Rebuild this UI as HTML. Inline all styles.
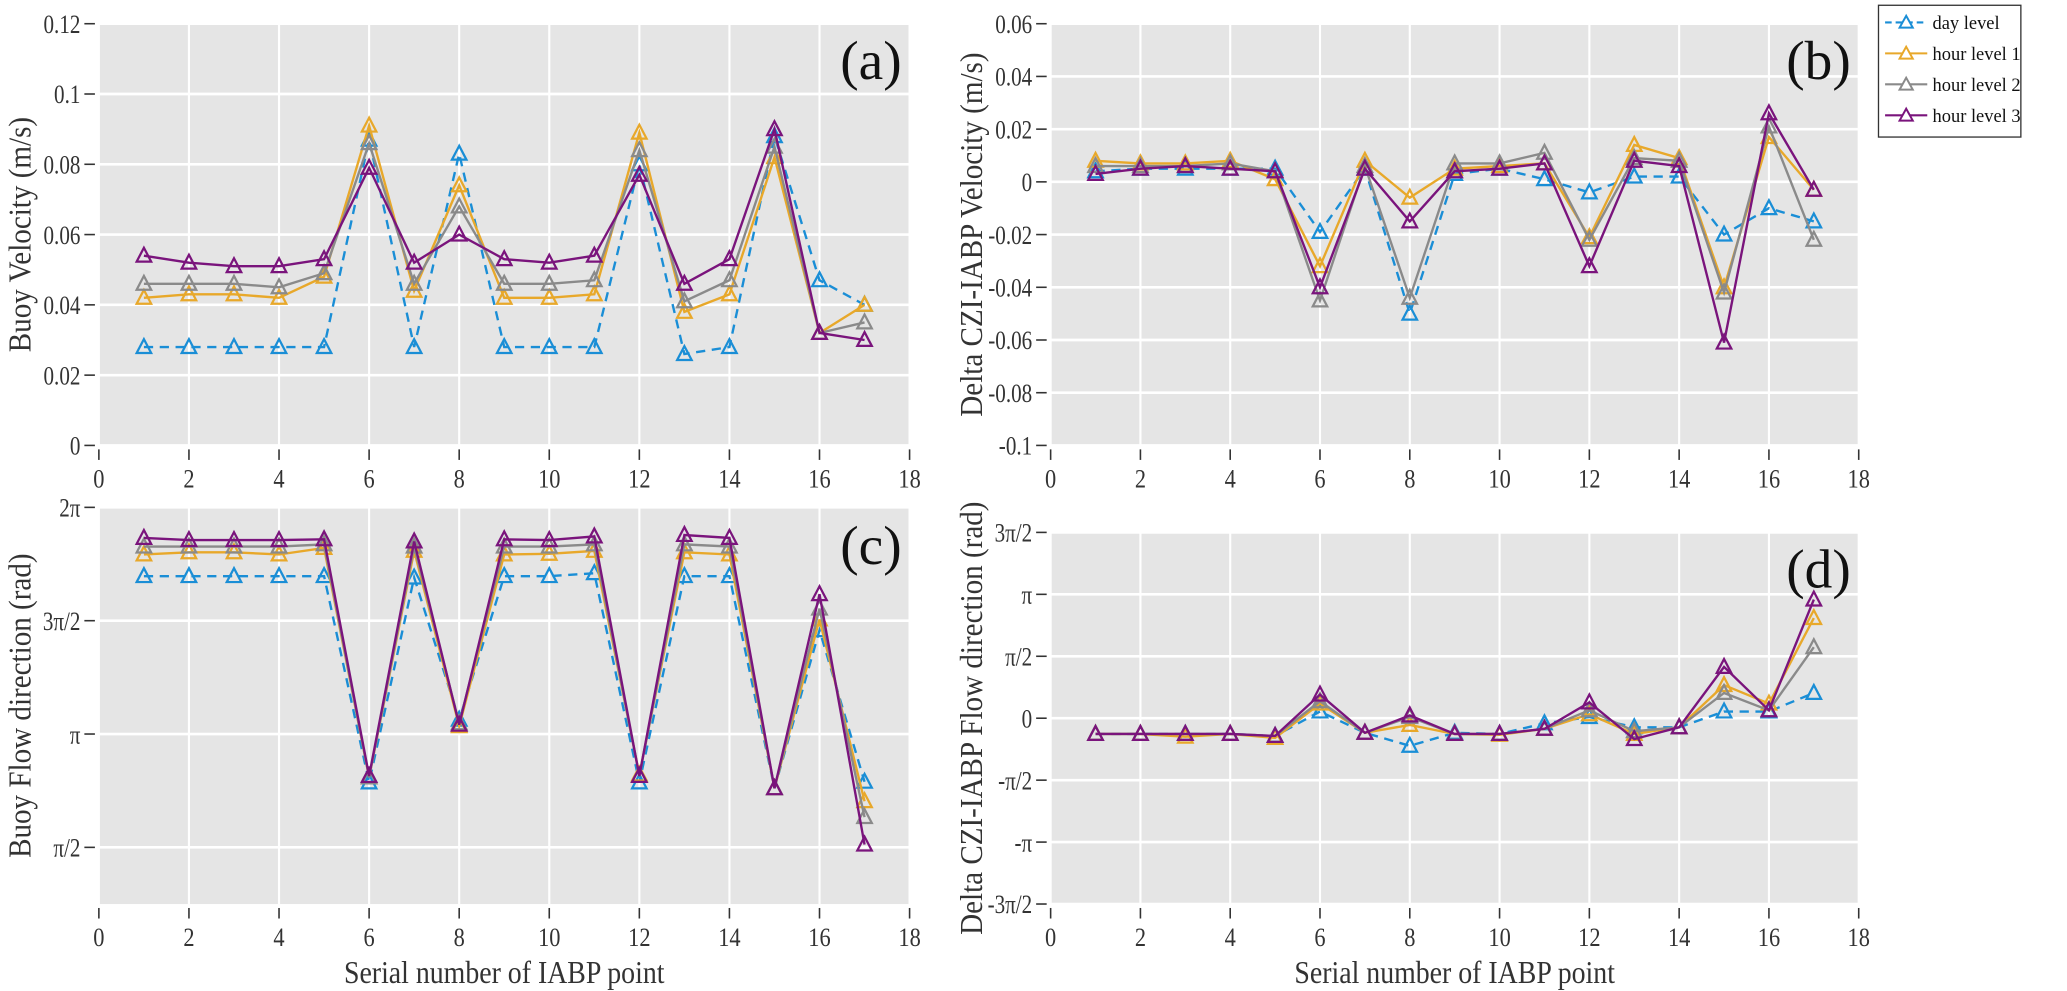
<!DOCTYPE html>
<html><head><meta charset="utf-8"><style>
body{margin:0;background:#fff}
svg{display:block;font-family:"Liberation Serif",serif}
</style></head><body>
<svg id="fig" width="2067" height="991" viewBox="0 0 1568 752" preserveAspectRatio="none" xmlns="http://www.w3.org/2000/svg"></svg>
<script>
const categories=[1,2,3,4,5,6,7,8,9,10,11,12,13,14,15,16,17];
const seriesNames=["day level","hour level 1","hour level 2","hour level 3"];
const aDay=[.028,.028,.028,.028,.028,.087,.028,.083,.028,.028,.028,.080,.026,.028,.088,.047,.040];
const aH1=[.042,.043,.043,.042,.048,.091,.044,.074,.042,.042,.043,.089,.038,.043,.082,.032,.040];
const aH2=[.046,.046,.046,.045,.049,.086,.046,.068,.046,.046,.047,.084,.041,.047,.085,.032,.035];
const aH3=[.054,.052,.051,.051,.053,.079,.052,.060,.053,.052,.054,.077,.046,.053,.090,.032,.030];
const bDay=[.004,.005,.005,.005,.005,-.019,.005,-.050,.003,.005,.001,-.004,.002,.002,-.020,-.010,-.015];
const bH1=[.008,.007,.007,.008,.001,-.032,.008,-.006,.005,.006,.007,-.021,.014,.009,-.040,.017,-.003];
const bH2=[.006,.006,.006,.007,.004,-.045,.006,-.044,.007,.007,.011,-.022,.009,.008,-.042,.021,-.022];
const bH3=[.003,.005,.006,.005,.004,-.040,.005,-.015,.004,.005,.007,-.032,.008,.006,-.061,.026,-.003];
const cDay=[5.33,5.33,5.33,5.33,5.33,2.47,5.31,3.34,5.33,5.33,5.37,2.47,5.33,5.33,2.39,4.58,2.48];
const cH1=[5.63,5.66,5.66,5.63,5.72,2.54,5.68,3.25,5.63,5.64,5.68,2.58,5.66,5.63,2.39,4.73,2.21];
const cH2=[5.74,5.74,5.74,5.74,5.77,2.54,5.74,3.29,5.74,5.74,5.77,2.56,5.77,5.74,2.39,4.88,1.99];
const cH3=[5.86,5.83,5.83,5.83,5.84,2.56,5.81,3.27,5.84,5.83,5.88,2.56,5.90,5.86,2.39,5.08,1.61];
const dDay=[-.40,-.40,-.40,-.40,-.45,.17,-.37,-.70,-.37,-.40,-.13,.03,-.23,-.23,.17,.17,.64];
const dH1=[-.40,-.40,-.47,-.40,-.50,.37,-.37,-.17,-.40,-.42,-.27,.10,-.40,-.23,.84,.37,2.54];
const dH2=[-.40,-.40,-.40,-.40,-.45,.43,-.37,.03,-.40,-.40,-.27,.20,-.33,-.23,.64,.20,1.80];
const dH3=[-.40,-.40,-.40,-.40,-.45,.60,-.37,.07,-.40,-.40,-.27,.40,-.53,-.23,1.30,.20,3.01];
const xTicks=[0,2,4,6,8,10,12,14,16,18];
const aTicks=[0,.02,.04,.06,.08,.1,.12], aLabels=["0","0.02","0.04","0.06","0.08","0.1","0.12"];
const bTicks=[-.1,-.08,-.06,-.04,-.02,0,.02,.04,.06], bLabels=["-0.1","-0.08","-0.06","-0.04","-0.02","0","0.02","0.04","0.06"];
const P=Math.PI;
const cTicks=[P/2,P,3*P/2,2*P], cLabels=["π/2","π","3π/2","2π"];
const dTicks=[-3*P/2,-P,-P/2,0,P/2,P,3*P/2], dLabels=["-3π/2","-π","-π/2","0","π/2","π","3π/2"];
const colors=["#1a8ed6","#e8a82a","#8a8a8a","#7a147c"];
const NS="http://www.w3.org/2000/svg", svg=document.getElementById('fig');
function el(t,a,p){const e=document.createElementNS(NS,t);for(const k in a)e.setAttribute(k,a[k]);(p||svg).appendChild(e);return e;}
function txt(g,x,y,s,size,anchor,sc){
  const t=el('text',{transform:`translate(${x},${y}) scale(${sc||0.85},1)`,'text-anchor':anchor,'font-size':size,fill:'#333'},g);
  t.textContent=s;return t;
}
function panel(name,x0,x1,y0,y1,ymin,ymax,yT,yL,series,ytitle,tag,tagY,showX){
  const g=el('g',{});
  
  
  const sx=v=>x0+(v-0)/18*(x1-x0), sy=v=>y1-(v-ymin)/(ymax-ymin)*(y1-y0);
  const bg=el('rect',{x:x0,y:y0,width:x1-x0,height:y1-y0,fill:'#e5e5e5'},g);
  
  
  xTicks.forEach(t=>{
    el('line',{x1:sx(t),x2:sx(t),y1:y0,y2:y1,stroke:'#fff','stroke-width':1.6},g);
    el('line',{x1:sx(t),x2:sx(t),y1:y1+3,y2:y1+11,stroke:'#333','stroke-width':1.2},g);
    const tx=txt(g,sx(t),y1+32,t,20,'middle');
    
    
  });
  yT.forEach((t,i)=>{
    el('line',{x1:x0,x2:x1,y1:sy(t),y2:sy(t),stroke:'#fff','stroke-width':2},g);
    el('line',{x1:x0-11,x2:x0-3,y1:sy(t),y2:sy(t),stroke:'#333','stroke-width':1.2},g);
    const tx=txt(g,x0-14,sy(t)+7,yL[i],20,'end',0.8);
    
    
  });
  series.forEach((s,k)=>{
    const pts=categories.map((c,i)=>sx(c)+','+sy(s[i])).join(' ');
    const ln=el('polyline',{points:pts,fill:'none',stroke:colors[k],'stroke-width':1.8,'stroke-dasharray':k==0?'7,5':'none'},g);
    
    
    categories.forEach((c,i)=>{
      const x=sx(c),y=sy(s[i]);
      const m=el('polygon',{points:`${x},${y-6} ${x-5.5},${y+4.5} ${x+5.5},${y+4.5}`,fill:'none',stroke:colors[k],'stroke-width':1.7},g);
      
      
    });
  });
  const yt=el('text',{transform:`translate(${x0-52},${(y0+y1)/2}) rotate(-90) scale(0.92,1)`,'text-anchor':'middle','font-size':24,fill:'#333'},g);yt.textContent=ytitle;
  
  
  const tg=el('text',{x:x1-6,y:tagY,'text-anchor':'end','font-size':42,fill:'#111'},g);tg.textContent=tag;
  
  
  if(showX){const xt=txt(g,(x0+x1)/2,y1+60,'Serial number of IABP point',24,'middle',0.88);
    
    }
}
panel('panel-a',75,690,18,338,0,.12,aTicks,aLabels,[aDay,aH1,aH2,aH3],'Buoy Velocity (m/s)','(a)',60,false);
panel('panel-b',797,1410,18,338,-.1,.06,bTicks,bLabels,[bDay,bH1,bH2,bH3],'Delta CZI-IABP Velocity (m/s)','(b)',60,false);
panel('panel-c',75,690,385,686,P/2-P/4,2*P,cTicks,cLabels,[cDay,cH1,cH2,cH3],'Buoy Flow direction (rad)','(c)',428,true);
panel('panel-d',797,1410,404,686,-3*P/2,3*P/2,dTicks,dLabels,[dDay,dH1,dH2,dH3],'Delta CZI-IABP Flow direction (rad)','(d)',446,true);
const lg=el('g',{});


el('rect',{x:1425,y:4,width:108,height:100,fill:'#fff',stroke:'#333','stroke-width':1},lg);
seriesNames.forEach((n,k)=>{
  const y=17+k*23.5;
  el('line',{x1:1430,x2:1462,y1:y,y2:y,stroke:colors[k],'stroke-width':1.6,'stroke-dasharray':k==0?'5,3':'none'},lg);
  const m=el('polygon',{points:`1446,${y-5} 1441,${y+4} 1451,${y+4}`,fill:'#fff',stroke:colors[k],'stroke-width':1.5},lg);
  
  
  const t=el('text',{x:1466,y:y+5,'font-size':14,fill:'#111'},lg);t.textContent=n;
  
  
});
</script>
</body></html>
